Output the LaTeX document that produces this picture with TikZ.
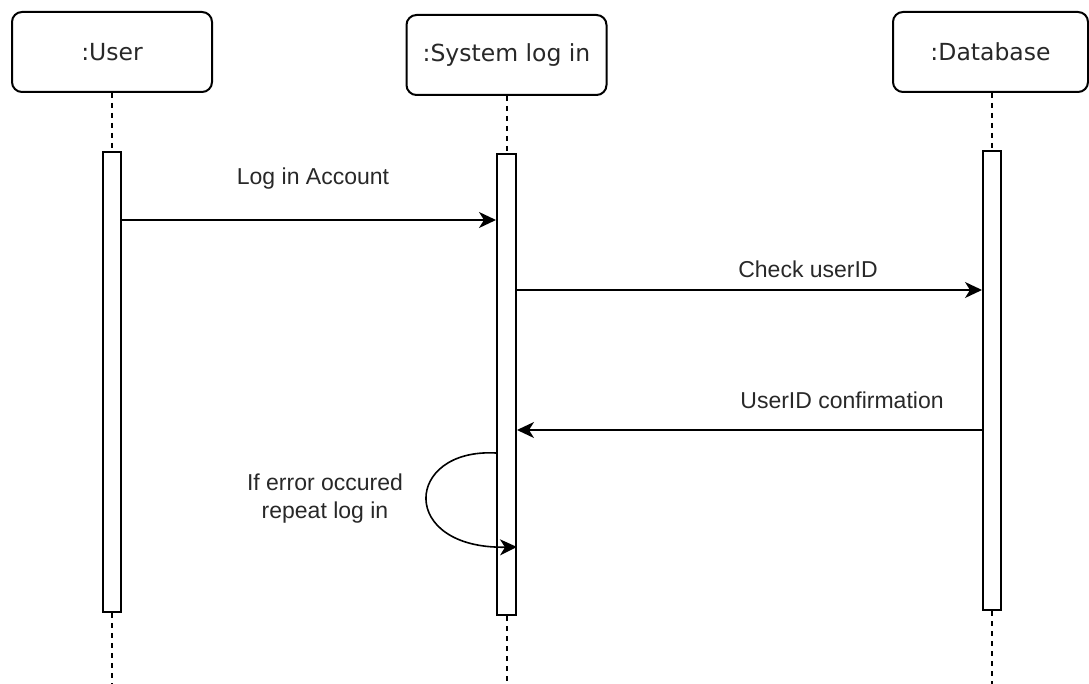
\documentclass[tikz,border=0pt]{standalone}
\usepackage{fontspec}
\setmainfont{Liberation Sans}
\newfontfamily\headfont{DejaVu Sans}
\usetikzlibrary{arrows.meta,positioning}
\definecolor{txtgray}{RGB}{40,40,40}
\tikzset{
    head/.style={draw, line width=2pt, rounded corners=10pt, fill=white, minimum width=200pt, minimum height=80pt, inner sep=0pt, font=\headfont\fontsize{23.5}{28}\selectfont, text=txtgray},
    actbar/.style={draw, line width=2pt, fill=white, minimum width=18pt, inner sep=0pt},
    life/.style={line width=2pt, dash pattern=on 5pt off 5pt},
    msg/.style={line width=1.6pt, -{Stealth[length=17pt, width=16pt, inset=5pt]}},
    lbl/.style={font=\fontsize{23}{28}\selectfont, text=txtgray, inner sep=0pt, align=center}
}
\begin{document}
\begin{tikzpicture}[x=1pt, y=-1pt]
    \useasboundingbox (0,0) rectangle (1089,684);
    % participants
    \node[head] (user) at (112,52) {:User};
    \node[head] (syslog) at (506.5,55) {:System log in};
    \node[head, minimum width=195pt] (dbase) at (990.5,52) {:Database};
    % activation bars
    \node[actbar, minimum height=460pt, below=58pt of user] (ubar) {};
    \node[actbar, minimum height=461pt, minimum width=19pt, below=57pt of syslog] (sbar) {};
    \node[actbar, minimum height=459pt, anchor=north] (dbar) at (992,150) {};
    % lifelines
    \coordinate (uend) at (112,684);
    \coordinate (send) at (506.5,684);
    \coordinate (dend) at (992,684);
    \draw[life] (user) -- (ubar);
    \draw[life] (ubar) -- (uend);
    \draw[life] (syslog) -- (sbar);
    \draw[life] (sbar) -- (send);
    \draw[life] (dbar |- dbase.south) -- (dbar);
    \draw[life] (dbar) -- (dend);
    % messages
    \coordinate (m1) at (0,220);
    \coordinate (m2) at (0,290);
    \coordinate (m3) at (0,430);
    \draw[msg] (ubar.east |- m1) -- (sbar.west |- m1);
    \draw[msg] (sbar.east |- m2) -- (dbar.west |- m2);
    \draw[msg] (dbar.west |- m3) -- (sbar.east |- m3);
    \draw[msg] (sbar.west |- 0,453) .. controls (404,448) and (398,549) .. (sbar.east |- 0,547);
    % labels
    \node[lbl] (l1) at (313,179) {Log in Account};
    \node[lbl] (l2) at (808,269) {Check userID};
    \node[lbl] (l3) at (842,400) {UserID confirmation};
    \node[lbl] (l4) at (325,499) {If error occured\\repeat log in};
\end{tikzpicture}
\end{document}
